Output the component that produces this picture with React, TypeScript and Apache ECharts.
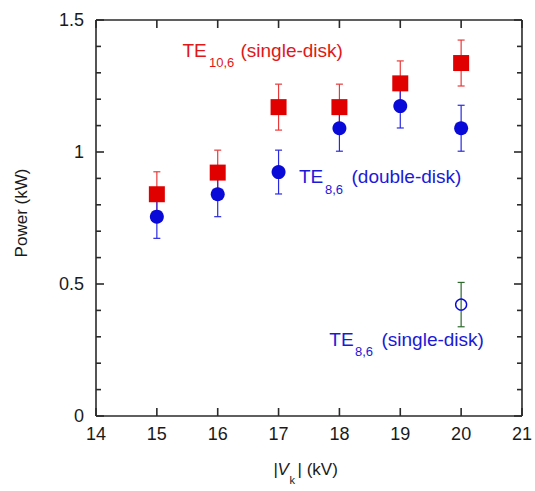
import React, { useEffect, useRef } from "react";
import * as echarts from "echarts";

const voltages = [15, 16, 17, 18, 19, 20];
const powerTE106Single = [0.84, 0.922, 1.17, 1.17, 1.26, 1.337];
const errTE106Single = [0.085, 0.085, 0.087, 0.087, 0.085, 0.087];
const powerTE86Double = [0.755, 0.84, 0.924, 1.09, 1.174, 1.09];
const errTE86Double = [0.082, 0.085, 0.083, 0.087, 0.083, 0.087];
const voltTE86Single = [20];
const powerTE86Single = [0.422];
const errTE86Single = [0.084];

const xTickValues = [14, 15, 16, 17, 18, 19, 20, 21];
const yMajorTicks = [0, 0.5, 1, 1.5];
const yMinorTicks = [0.1, 0.2, 0.3, 0.4, 0.6, 0.7, 0.8, 0.9, 1.1, 1.2, 1.3, 1.4];

const FONT = "'Liberation Sans', Arial, Helvetica, sans-serif";
const AXIS = "#2a2a2a";

function errorSeries(xs: number[], ys: number[], es: number[], color: string, z: number) {
  return {
    type: "custom",
    z,
    clip: false,
    encode: { x: 0, y: 1 },
    data: xs.map((x, i) => [x, ys[i], es[i]]),
    renderItem: (_p: any, api: any) => {
      const x = api.value(0);
      const y = api.value(1);
      const e = api.value(2);
      const t = api.coord([x, y + e]);
      const b = api.coord([x, y - e]);
      const w = 3.5;
      const st = { stroke: color, lineWidth: 1.2 };
      return {
        type: "group",
        children: [
          { type: "line", shape: { x1: t[0], y1: t[1], x2: b[0], y2: b[1] }, style: st },
          { type: "line", shape: { x1: t[0] - w, y1: t[1], x2: t[0] + w, y2: t[1] }, style: st },
          { type: "line", shape: { x1: b[0] - w, y1: b[1], x2: b[0] + w, y2: b[1] }, style: st },
        ],
      };
    },
  };
}

function frameSeries() {
  return {
    type: "custom",
    z: 5,
    silent: true,
    clip: false,
    encode: { x: 0, y: 1 },
    data: [[xTickValues[0], yMajorTicks[0]]],
    renderItem: (params: any, api: any) => {
      const cs = params.coordSys;
      const left = cs.x, top = cs.y, right = cs.x + cs.width, bottom = cs.y + cs.height;
      const kids: any[] = [];
      const seg = (x1: number, y1: number, x2: number, y2: number) =>
        kids.push({ type: "line", shape: { x1, y1, x2, y2 }, style: { stroke: AXIS, lineWidth: 1.6 } });
      seg(left, top, right, top);
      seg(left, bottom, right, bottom);
      seg(left, top, left, bottom);
      seg(right, top, right, bottom);
      xTickValues.forEach((v) => {
        const px = api.coord([v, yMajorTicks[0]])[0];
        seg(px, bottom, px, bottom - 8);
        seg(px, top, px, top + 8);
      });
      yMajorTicks.forEach((v) => {
        const py = api.coord([xTickValues[0], v])[1];
        seg(left, py, left + 8, py);
        seg(right, py, right - 8, py);
      });
      yMinorTicks.forEach((v) => {
        const py = api.coord([xTickValues[0], v])[1];
        seg(left, py, left + 5, py);
        seg(right, py, right - 5, py);
      });
      return { type: "group", children: kids };
    },
  };
}

function txt(x: number, y: number, text: string, size: number, color: string, extra: any = {}) {
  return {
    type: "text",
    x,
    y,
    z: 100,
    ...extra,
    style: {
      text,
      font: `${extra.italic ? "italic " : ""}${size}px ${FONT}`,
      fill: color,
      align: extra.center ? "center" : "left",
      verticalAlign: "middle",
      textAlign: extra.center ? "center" : "left",
      textVerticalAlign: "middle",
    },
  };
}

export default function App() {
  const ref = useRef<HTMLDivElement>(null);
  useEffect(() => {
    document.body.style.margin = "0";
    const chart = echarts.init(ref.current!, null, { renderer: "svg" });
    const red = "#e00000";
    const blue = "#0a0ad8";
    const redT = "#e01818";
    const blueT = "#1a1ad8";
    chart.setOption({
      animation: false,
      grid: { left: 96, right: 13, top: 20, bottom: 75 },
      xAxis: {
        type: "value",
        min: xTickValues[0],
        max: xTickValues[xTickValues.length - 1],
        interval: 1,
        axisLine: { show: false },
        axisTick: { show: false },
        splitLine: { show: false },
        axisLabel: { fontSize: 18, color: "#1a1a1a", fontFamily: FONT, margin: 9 },
      },
      yAxis: {
        type: "value",
        min: yMajorTicks[0],
        max: yMajorTicks[yMajorTicks.length - 1],
        interval: 0.5,
        axisLine: { show: false },
        axisTick: { show: false },
        splitLine: { show: false },
        axisLabel: { fontSize: 18, color: "#1a1a1a", fontFamily: FONT, margin: 12 },
      },
      series: [
        frameSeries(),
        errorSeries(voltages, powerTE106Single, errTE106Single, "#e83a3a", 2),
        errorSeries(voltages, powerTE86Double, errTE86Double, "#2a2ae0", 2),
        errorSeries(voltTE86Single, powerTE86Single, errTE86Single, "#2d6b2d", 2),
        {
          type: "scatter",
          z: 3,
          symbol: "rect",
          symbolSize: 16,
          itemStyle: { color: red, opacity: 1 },
          data: voltages.map((x, i) => [x, powerTE106Single[i]]),
        },
        {
          type: "scatter",
          z: 4,
          symbol: "circle",
          symbolSize: 14,
          itemStyle: { color: blue, opacity: 1 },
          data: voltages.map((x, i) => [x, powerTE86Double[i]]),
        },
        {
          type: "scatter",
          z: 4,
          symbol: "circle",
          symbolSize: 11,
          itemStyle: { color: "rgba(255,255,255,0)", borderColor: blue, borderWidth: 1.4, opacity: 1 },
          data: voltTE86Single.map((x, i) => [x, powerTE86Single[i]]),
        },
      ],
      graphic: [
        txt(182.5, 50, "TE", 19, redT),
        txt(209, 62, "10,6", 13, redT),
        txt(240.5, 50, "(single-disk)", 19, redT),
        txt(299, 176.7, "TE", 19, blueT),
        txt(325, 189.5, "8,6", 13, blueT),
        txt(351.5, 176.7, "(double-disk)", 19, blueT),
        txt(329.3, 339.2, "TE", 19, blueT),
        txt(355, 351.5, "8,6", 13, blueT),
        txt(381.5, 339.2, "(single-disk)", 19, blueT),
        txt(21, 213, "Power (kW)", 17, "#1a1a1a", { rotation: Math.PI / 2, center: true }),
        txt(273.5, 469, "|", 17, "#1a1a1a"),
        txt(277.5, 469, "V", 17, "#1a1a1a", { italic: true }),
        txt(289.5, 480, "k", 11, "#1a1a1a"),
        txt(297.5, 469, "| (kV)", 17, "#1a1a1a"),
      ],
    });
    return () => chart.dispose();
  }, []);
  return <div ref={ref} style={{ width: 535, height: 491 }} />;
}
